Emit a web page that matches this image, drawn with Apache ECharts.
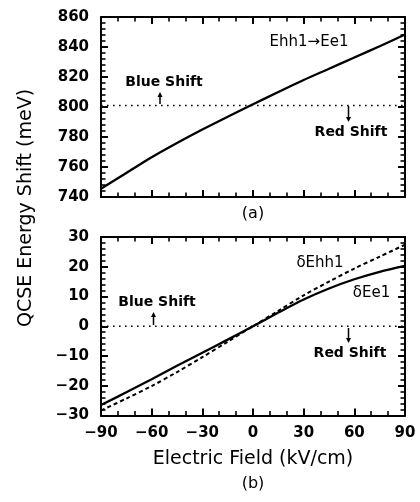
<!DOCTYPE html>
<html><head><meta charset="utf-8">
<script src="https://cdn.jsdelivr.net/npm/echarts@6/dist/echarts.min.js"></script>
<style>html,body{margin:0;padding:0;background:#fff}#c{width:420px;height:502px}</style>
</head><body><div id="c"></div>
<script>
// ---- data ----
const fields = [-90, -75, -60, -45, -30, -15, 0, 15, 30, 45, 60, 75, 90];           // kV/cm
const transitionEnergy = [745.5, 756, 766.5, 776, 785, 793.5, 801.8, 810, 818, 825.5, 833, 840.5, 848.3]; // Ehh1->Ee1 (meV)
const electronShift = [-26.5, -22.2, -17.8, -13.3, -8.9, -4.5, 0, 4.6, 9.0, 12.7, 15.8, 18.3, 20.3];     // dEe1 (meV)
const holeShift = [-28.3, -24.3, -20.1, -15.4, -10.4, -5.2, 0, 5.2, 10.4, 15, 19.4, 23.4, 27.4];        // dEhh1 (meV)
const refFields = [-90, 90];
const refLevelA = [801, 801];
const refLevelB = [0, 0];
const xTickLabels = [-90, -60, -30, 0, 30, 60, 90];
const yTickLabelsA = [740, 760, 780, 800, 820, 840, 860];
const yTickLabelsB = [-30, -20, -10, 0, 10, 20, 30];

const FONT = 'DejaVu Sans';
const fmt = v => String(v).replace('-', '\u2212');
const pairs = (xs, ys) => xs.map((x, i) => [x, ys[i]]);

function xAx(grid, pos, labels) {
  return {
    type: 'value', gridIndex: grid, position: pos,
    min: xTickLabels[0], max: xTickLabels[xTickLabels.length - 1], interval: 30,
    axisLine: { show: true, onZero: false, lineStyle: { color: '#000', width: 2 } },
    axisTick: { show: true, inside: true, length: 7, lineStyle: { color: '#000', width: 2 } },
    minorTick: { show: true, splitNumber: 3, length: 4.5, lineStyle: { color: '#000', width: 1.6 } },
    splitLine: { show: false },
    axisLabel: { show: labels, margin: 10, fontFamily: FONT, fontSize: 15, fontWeight: 'bold', color: '#000', formatter: fmt }
  };
}
function yAx(grid, pos, ticks, labels) {
  return {
    type: 'value', gridIndex: grid, position: pos,
    min: ticks[0], max: ticks[ticks.length - 1], interval: ticks[1] - ticks[0],
    axisLine: { show: true, onZero: false, lineStyle: { color: '#000', width: 2 } },
    axisTick: { show: true, inside: true, length: 7, lineStyle: { color: '#000', width: 2 } },
    minorTick: { show: true, splitNumber: 5, length: 4.5, lineStyle: { color: '#000', width: 1.6 } },
    splitLine: { show: false },
    axisLabel: { show: labels, margin: 12, fontFamily: FONT, fontSize: 15, fontWeight: 'bold', color: '#000', formatter: fmt }
  };
}
const solid = w => ({ color: '#000', width: w, type: 'solid' });
const dotted = { color: '#000', width: 1.6, type: [1.6, 4.4] };

function txt(x, y, text, size, weight) {
  return { type: 'text', x, y, style: { text, fontFamily: FONT, fontSize: size, fontWeight: weight || 'normal', fill: '#000', align: 'center', verticalAlign: 'middle' } };
}
function arrow(x, y1, y2) { // y1 = tail, y2 = tip
  const d = y2 > y1 ? -1 : 1;
  return { type: 'group', children: [
    { type: 'line', shape: { x1: x, y1: y1, x2: x, y2: y2 + d * 3 }, style: { stroke: '#000', lineWidth: 1.5 } },
    { type: 'polygon', shape: { points: [[x, y2], [x - 2.5, y2 + d * 5], [x + 2.5, y2 + d * 5]] }, style: { fill: '#000' } }
  ]};
}

const chart = echarts.init(document.getElementById('c'));
chart.setOption({
  animation: false,
  backgroundColor: '#fff',
  grid: [
    { left: 101, top: 17, width: 304, height: 180 },
    { left: 101, top: 237, width: 304, height: 178.5 }
  ],
  xAxis: [xAx(0, 'bottom', false), xAx(0, 'top', false), xAx(1, 'bottom', true), xAx(1, 'top', false)],
  yAxis: [yAx(0, 'left', yTickLabelsA, true), yAx(0, 'right', yTickLabelsA, false),
          yAx(1, 'left', yTickLabelsB, true), yAx(1, 'right', yTickLabelsB, false)],
  series: [
    { type: 'line', xAxisIndex: 0, yAxisIndex: 0, data: pairs(refFields, refLevelA), symbol: 'none', lineStyle: dotted, z: 1 },
    { type: 'line', xAxisIndex: 0, yAxisIndex: 0, data: pairs(fields, transitionEnergy), symbol: 'none', smooth: 0.3, lineStyle: solid(2.3), z: 2 },
    { type: 'line', xAxisIndex: 2, yAxisIndex: 2, data: pairs(refFields, refLevelB), symbol: 'none', lineStyle: dotted, z: 1 },
    { type: 'line', xAxisIndex: 2, yAxisIndex: 2, data: pairs(fields, holeShift), symbol: 'none', smooth: 0.3, lineStyle: { color: '#000', width: 2, type: [4, 3] }, z: 2 },
    { type: 'line', xAxisIndex: 2, yAxisIndex: 2, data: pairs(fields, electronShift), symbol: 'none', smooth: 0.3, lineStyle: solid(2.3), z: 3 }
  ],
  graphic: [
    txt(309, 42, 'Ehh1\u2192Ee1', 15),
    txt(164, 82, 'Blue Shift', 14, 'bold'),
    txt(351, 132, 'Red Shift', 14, 'bold'),
    arrow(160, 104, 92),
    arrow(348.5, 106, 122),
    txt(253, 214, '(a)', 16),
    txt(320, 263, '\u03b4Ehh1', 15),
    txt(371.5, 293, '\u03b4Ee1', 15),
    txt(157, 302, 'Blue Shift', 14, 'bold'),
    txt(350, 353, 'Red Shift', 14, 'bold'),
    arrow(153.5, 325, 312),
    arrow(348.5, 328, 343),
    txt(253, 459, 'Electric Field (kV/cm)', 19),
    txt(253, 484, '(b)', 16),
    { type: 'text', x: 26, y: 208, rotation: Math.PI / 2,
      style: { text: 'QCSE Energy Shift (meV)', fontFamily: FONT, fontSize: 19, fill: '#000', align: 'center', verticalAlign: 'middle' } }
  ]
});
</script>
</body></html>
